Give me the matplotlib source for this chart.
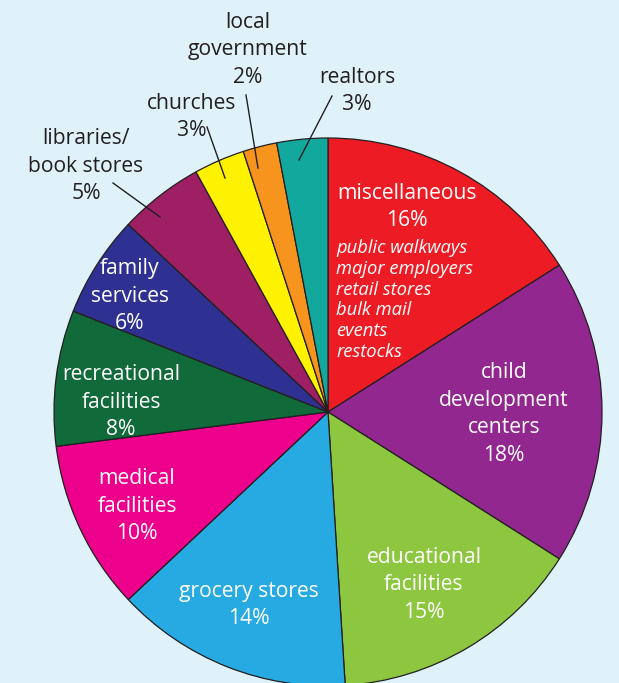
import matplotlib.pyplot as plt

# data, clockwise from 12 o'clock
categories = ['miscellaneous', 'child development centers', 'educational facilities',
              'grocery stores', 'medical facilities', 'recreational facilities',
              'family services', 'libraries/ book stores', 'churches',
              'local government', 'realtors']
shares = [16, 18, 15, 14, 10, 8, 6, 5, 3, 2, 3]
colors = ['#ed1c24', '#92278f', '#8dc63f', '#27aae1', '#ec008c', '#106a39',
          '#2e3192', '#9e1f63', '#fff200', '#f7941d', '#13a89e']
misc_items = ['public walkways', 'major employers', 'retail stores',
              'bulk mail', 'events', 'restocks']

W, H = 619, 683
BG = '#dff2fa'
DARK = '#231f20'
plt.rcParams['font.family'] = ['Open Sans', 'DejaVu Sans']

fig = plt.figure(figsize=(W / 100, H / 100), dpi=100, facecolor=BG)
ax = fig.add_axes([0, 0, 1, 1])
ax.set_facecolor(BG)

def Y(y):
    return H - y

ax.pie(shares, colors=colors, startangle=90, counterclock=False,
       center=(328, Y(412)), radius=274, frame=True,
       wedgeprops=dict(edgecolor=DARK, linewidth=0.9))
ax.set_xlim(0, W)
ax.set_ylim(0, H)
ax.axis('off')

fs = 15.2
ls = 1.4
# labels inside slices (white)
inside = [
    ('miscellaneous\n16%', 407, 207),
    ('child\ndevelopment\ncenters\n18%', 504, 414),
    ('educational\nfacilities\n15%', 424, 585),
    ('grocery stores\n14%', 249, 605),
    ('medical\nfacilities\n10%', 137, 506),
    ('recreational\nfacilities\n8%', 121, 402),
    ('family\nservices\n6%', 130, 296),
]
for txt, x, y in inside:
    ax.text(x, Y(y), txt, color='white', fontsize=fs, ha='center', va='center',
            linespacing=ls)

ax.text(336, Y(300), '\n'.join(misc_items), color='white', fontsize=13.2,
        style='italic', ha='left', va='center', linespacing=1.2)

# labels outside the pie with leader lines
outside = [
    ('local\ngovernment\n2%', 248, 50, (246, 95), (258, 168)),
    ('realtors\n3%', 357, 91, (332, 96), (299, 160)),
    ('churches\n3%', 192, 117, (207, 127), (225, 178)),
    ('libraries/\nbook stores\n5%', 86, 166, (113, 183), (160, 217)),
]
for txt, x, y, p0, p1 in outside:
    ax.text(x, Y(y), txt, color=DARK, fontsize=fs, ha='center', va='center',
            linespacing=ls)
    ax.plot([p0[0], p1[0]], [Y(p0[1]), Y(p1[1])], color=DARK, linewidth=1)

fig.savefig('out.png', dpi=100, facecolor=BG)
